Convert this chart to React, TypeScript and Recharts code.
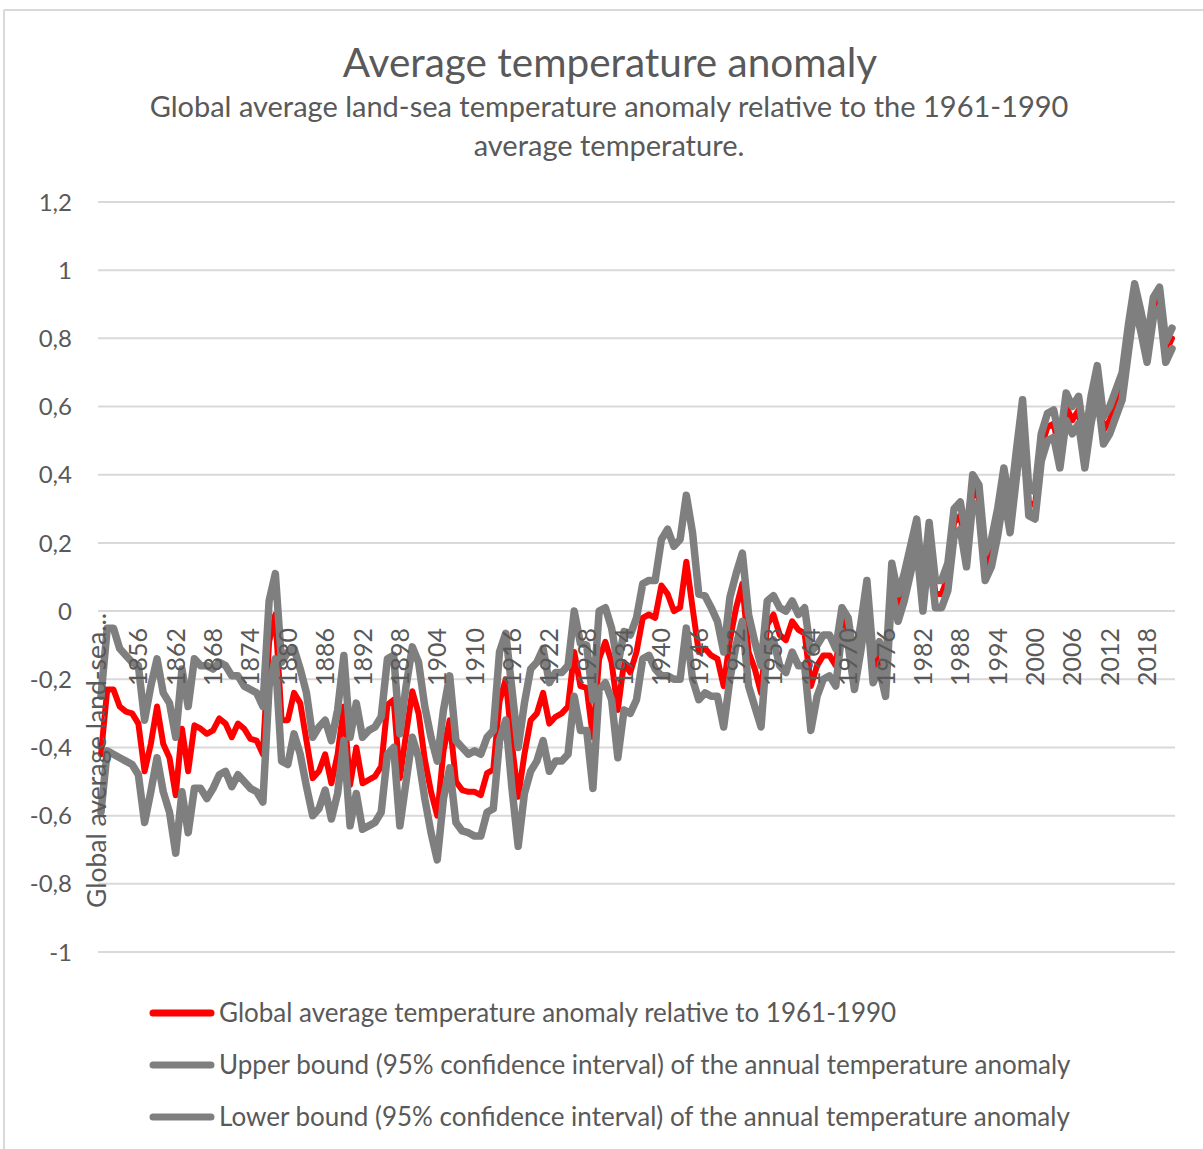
import React from 'react';
import { LineChart, Line, XAxis, YAxis, CartesianGrid } from 'recharts';

// HadCRUT-style annual global anomaly vs 1961-1990, one value per year from 1850
const FIRST_YEAR = 1850;

const ANOMALY = [
  -0.42, -0.23, -0.23, -0.28, -0.295, -0.3, -0.33, -0.47, -0.39, -0.28,
  -0.39, -0.43, -0.54, -0.345, -0.47, -0.335, -0.345, -0.36, -0.35, -0.315,
  -0.33, -0.37, -0.33, -0.345, -0.375, -0.38, -0.42, -0.09, -0.01, -0.32,
  -0.32, -0.24, -0.27, -0.38, -0.49, -0.47, -0.42, -0.505, -0.42, -0.28,
  -0.51, -0.4, -0.505, -0.495, -0.485, -0.455, -0.275, -0.26, -0.49, -0.36,
  -0.235, -0.3, -0.435, -0.53, -0.6, -0.41, -0.32, -0.5, -0.525, -0.53,
  -0.53, -0.54, -0.475, -0.465, -0.265, -0.2, -0.39, -0.545, -0.42, -0.32,
  -0.3, -0.24, -0.33, -0.31, -0.3, -0.28, -0.12, -0.22, -0.225, -0.37,
  -0.14, -0.09, -0.15, -0.29, -0.15, -0.18, -0.12, -0.02, -0.01, -0.02,
  0.075, 0.05, 0.0, 0.01, 0.145, 0.01, -0.12, -0.11, -0.13, -0.14,
  -0.22, -0.085, 0.01, 0.08, -0.12, -0.17, -0.24, -0.04, -0.01, -0.07,
  -0.085, -0.03, -0.055, -0.065, -0.22, -0.16, -0.13, -0.13, -0.16, -0.02,
  -0.06, -0.19, -0.08, 0.05, -0.17, -0.13, -0.21, 0.1, 0.01, 0.07,
  0.15, 0.23, 0.04, 0.22, 0.05, 0.05, 0.1, 0.26, 0.28, 0.17,
  0.36, 0.33, 0.13, 0.17, 0.26, 0.38, 0.27, 0.43, 0.58, 0.32,
  0.31, 0.48, 0.54, 0.55, 0.46, 0.6, 0.56, 0.59, 0.46, 0.59,
  0.68, 0.53, 0.56, 0.61, 0.66, 0.8, 0.93, 0.85, 0.76, 0.89,
  0.92, 0.76, 0.8,
];

const UPPER = [
  -0.25, -0.05, -0.05, -0.11, -0.13, -0.15, -0.16, -0.32, -0.22, -0.14,
  -0.24, -0.27, -0.37, -0.17, -0.28, -0.14, -0.16, -0.16, -0.17, -0.15,
  -0.16, -0.19, -0.19, -0.22, -0.23, -0.24, -0.28, 0.03, 0.11, -0.15,
  -0.12, -0.11, -0.17, -0.24, -0.37, -0.34, -0.32, -0.38, -0.29, -0.13,
  -0.37, -0.27, -0.37, -0.35, -0.34, -0.31, -0.14, -0.13, -0.36, -0.22,
  -0.105, -0.15, -0.28, -0.37, -0.44, -0.29, -0.19, -0.38, -0.4, -0.42,
  -0.41, -0.42, -0.37, -0.35, -0.12, -0.065, -0.23, -0.4, -0.27, -0.17,
  -0.15, -0.11, -0.21, -0.18, -0.18, -0.16, 0.0, -0.095, -0.1, -0.26,
  0.0, 0.01, -0.05, -0.16, -0.06, -0.07, -0.02, 0.08, 0.09, 0.09,
  0.21, 0.24, 0.19, 0.21, 0.34, 0.23, 0.05, 0.045, 0.01, -0.03,
  -0.12, 0.04, 0.11, 0.17, -0.01, -0.09, -0.16, 0.03, 0.045, 0.01,
  0.0, 0.03, -0.01, 0.01, -0.12, -0.1, -0.07, -0.07, -0.11, 0.01,
  -0.02, -0.15, -0.04, 0.09, -0.13, -0.09, -0.17, 0.14, 0.05, 0.11,
  0.19, 0.27, 0.08, 0.26, 0.09, 0.09, 0.14, 0.3, 0.32, 0.21,
  0.4, 0.37, 0.17, 0.21, 0.3, 0.42, 0.31, 0.47, 0.62, 0.36,
  0.35, 0.52, 0.58, 0.59, 0.5, 0.64, 0.6, 0.63, 0.5, 0.63,
  0.72, 0.57, 0.6, 0.65, 0.7, 0.84, 0.96, 0.88, 0.79, 0.92,
  0.95, 0.79, 0.83,
];

const LOWER = [
  -0.59, -0.41, -0.42, -0.43, -0.44, -0.45, -0.48, -0.62, -0.53, -0.43,
  -0.53, -0.59, -0.71, -0.53, -0.65, -0.52, -0.52, -0.55, -0.52, -0.48,
  -0.47, -0.515, -0.48, -0.5, -0.52, -0.53, -0.56, -0.22, -0.14, -0.44,
  -0.45, -0.36, -0.42, -0.515, -0.6, -0.58, -0.525, -0.61, -0.535, -0.38,
  -0.63, -0.535, -0.64, -0.63, -0.62, -0.59, -0.42, -0.4, -0.63, -0.5,
  -0.37, -0.43, -0.55, -0.65, -0.73, -0.55, -0.46, -0.62, -0.645, -0.65,
  -0.66, -0.66, -0.59, -0.58, -0.38, -0.32, -0.52, -0.69, -0.535, -0.47,
  -0.44, -0.38, -0.47, -0.44, -0.44, -0.42, -0.25, -0.35, -0.35, -0.52,
  -0.23, -0.21, -0.26, -0.43, -0.29, -0.3, -0.26, -0.14, -0.13, -0.17,
  -0.19, -0.19, -0.2, -0.2, -0.05, -0.2, -0.26, -0.24, -0.25, -0.25,
  -0.34, -0.2, -0.1, -0.03, -0.22, -0.28, -0.34, -0.1, -0.085, -0.16,
  -0.18, -0.12, -0.16, -0.16, -0.35, -0.25, -0.2, -0.19, -0.22, -0.06,
  -0.1, -0.23, -0.12, 0.01, -0.21, -0.17, -0.25, 0.06, -0.03, 0.03,
  0.11, 0.19, 0.0, 0.18, 0.01, 0.01, 0.06, 0.22, 0.24, 0.13,
  0.32, 0.29, 0.09, 0.13, 0.22, 0.34, 0.23, 0.39, 0.54, 0.28,
  0.27, 0.44, 0.5, 0.51, 0.42, 0.56, 0.52, 0.55, 0.42, 0.55,
  0.64, 0.49, 0.52, 0.57, 0.62, 0.76, 0.9, 0.82, 0.73, 0.86,
  0.89, 0.73, 0.77,
];

const X_TICK_LABELS = [
  '1856', '1862', '1868', '1874', '1880', '1886', '1892', '1898', '1904',
  '1910', '1916', '1922', '1928', '1934', '1940', '1946', '1952', '1958',
  '1964', '1970', '1976', '1982', '1988', '1994', '2000', '2006', '2012', '2018',
];

const Y_TICKS = [-1, -0.8, -0.6, -0.4, -0.2, 0, 0.2, 0.4, 0.6, 0.8, 1, 1.2];

const SERIES = [
  { key: 'anomaly', name: 'Global average temperature anomaly relative to 1961-1990', color: '#FF0000', width: 6 },
  { key: 'upper', name: 'Upper bound (95% confidence interval) of the annual temperature anomaly', color: '#7F7F7F', width: 7.5 },
  { key: 'lower', name: 'Lower bound (95% confidence interval) of the annual temperature anomaly', color: '#7F7F7F', width: 7.5 },
];

const W = 1203;
const H = 1149;
const PLOT_LEFT = 98;
const PLOT_RIGHT = 1175;
const PLOT_TOP = 202;
const PLOT_BOTTOM = 952;
const Y_MIN = -1;
const Y_MAX = 1.2;
const YAXIS_W = 60;
const XAXIS_H = 30;
// horizontal axis crosses at 0, so the year labels hang under the zero line
const ZERO_Y = PLOT_TOP + (Y_MAX / (Y_MAX - Y_MIN)) * (PLOT_BOTTOM - PLOT_TOP);

const FONT = 'Lato, "Open Sans", sans-serif';
const TEXT = '#595959';

const data = ANOMALY.map((v, i) => ({
  year: String(FIRST_YEAR + i),
  anomaly: v,
  upper: UPPER[i],
  lower: LOWER[i],
}));

const XTick = ({ x, payload }: any) => {
  if (!X_TICK_LABELS.includes(payload.value)) return <g />;
  const y = ZERO_Y + 17;
  return (
    <text
      x={x}
      y={y}
      dy="0.36em"
      transform={`rotate(-90 ${x} ${y})`}
      textAnchor="end"
      fill={TEXT}
      fontSize={25}
      fontFamily={FONT}
    >
      {payload.value}
    </text>
  );
};

const YTick = ({ y, payload }: any) => (
  <text x={72} y={y} dy="0.36em" textAnchor="end" fill={TEXT} fontSize={24} fontFamily={FONT}>
    {String(payload.value).replace('.', ',')}
  </text>
);

export default function App() {
  return (
    <div style={{ position: 'absolute', left: 0, top: 0, width: W, height: H, background: '#fff' }}>
      <LineChart
        width={W}
        height={H}
        data={data}
        margin={{ top: PLOT_TOP, right: W - PLOT_RIGHT, bottom: H - PLOT_BOTTOM - XAXIS_H, left: PLOT_LEFT - YAXIS_W }}
      >
        <CartesianGrid vertical={false} stroke="#D9D9D9" strokeWidth={2} />
        <XAxis
          dataKey="year"
          type="category"
          interval={0}
          height={XAXIS_H}
          axisLine={false}
          tickLine={false}
          padding={{ left: 3, right: 3 }}
          tick={<XTick />}
        />
        <YAxis
          type="number"
          domain={[Y_MIN, Y_MAX]}
          ticks={Y_TICKS}
          interval={0}
          width={YAXIS_W}
          axisLine={false}
          tickLine={false}
          tick={<YTick />}
        />
        {SERIES.map((s) => (
          <Line
            key={s.key}
            type="linear"
            dataKey={s.key}
            name={s.name}
            stroke={s.color}
            strokeWidth={s.width}
            strokeLinejoin="round"
            strokeLinecap="round"
            dot={false}
            activeDot={false}
            isAnimationActive={false}
          />
        ))}
      </LineChart>

      <svg
        width={W}
        height={H}
        style={{ position: 'absolute', left: 0, top: 0, pointerEvents: 'none' }}
        fontFamily={FONT}
        fill={TEXT}
      >
        <line x1={4} y1={10} x2={W} y2={10} stroke="#D9D9D9" strokeWidth={2} />
        <line x1={4} y1={10} x2={4} y2={H} stroke="#D9D9D9" strokeWidth={2} />

        <text x={610} y={77} textAnchor="middle" fontSize={40.5}>Average temperature anomaly</text>
        <text x={609} y={117} textAnchor="middle" fontSize={29}>
          Global average land-sea temperature anomaly relative to the 1961-1990
        </text>
        <text x={609} y={156} textAnchor="middle" fontSize={29}>average temperature.</text>

        <text x={106} y={908} transform="rotate(-90 106 908)" fontSize={26.5}>Global average land-sea...</text>

        {SERIES.map((s, i) => {
          const cy = 1013 + i * 52;
          return (
            <g key={s.key}>
              <line x1={153} y1={cy} x2={211} y2={cy} stroke={s.color} strokeWidth={7} strokeLinecap="round" />
              <text x={219} y={cy + 9} fontSize={26}>{s.name}</text>
            </g>
          );
        })}
      </svg>
    </div>
  );
}
